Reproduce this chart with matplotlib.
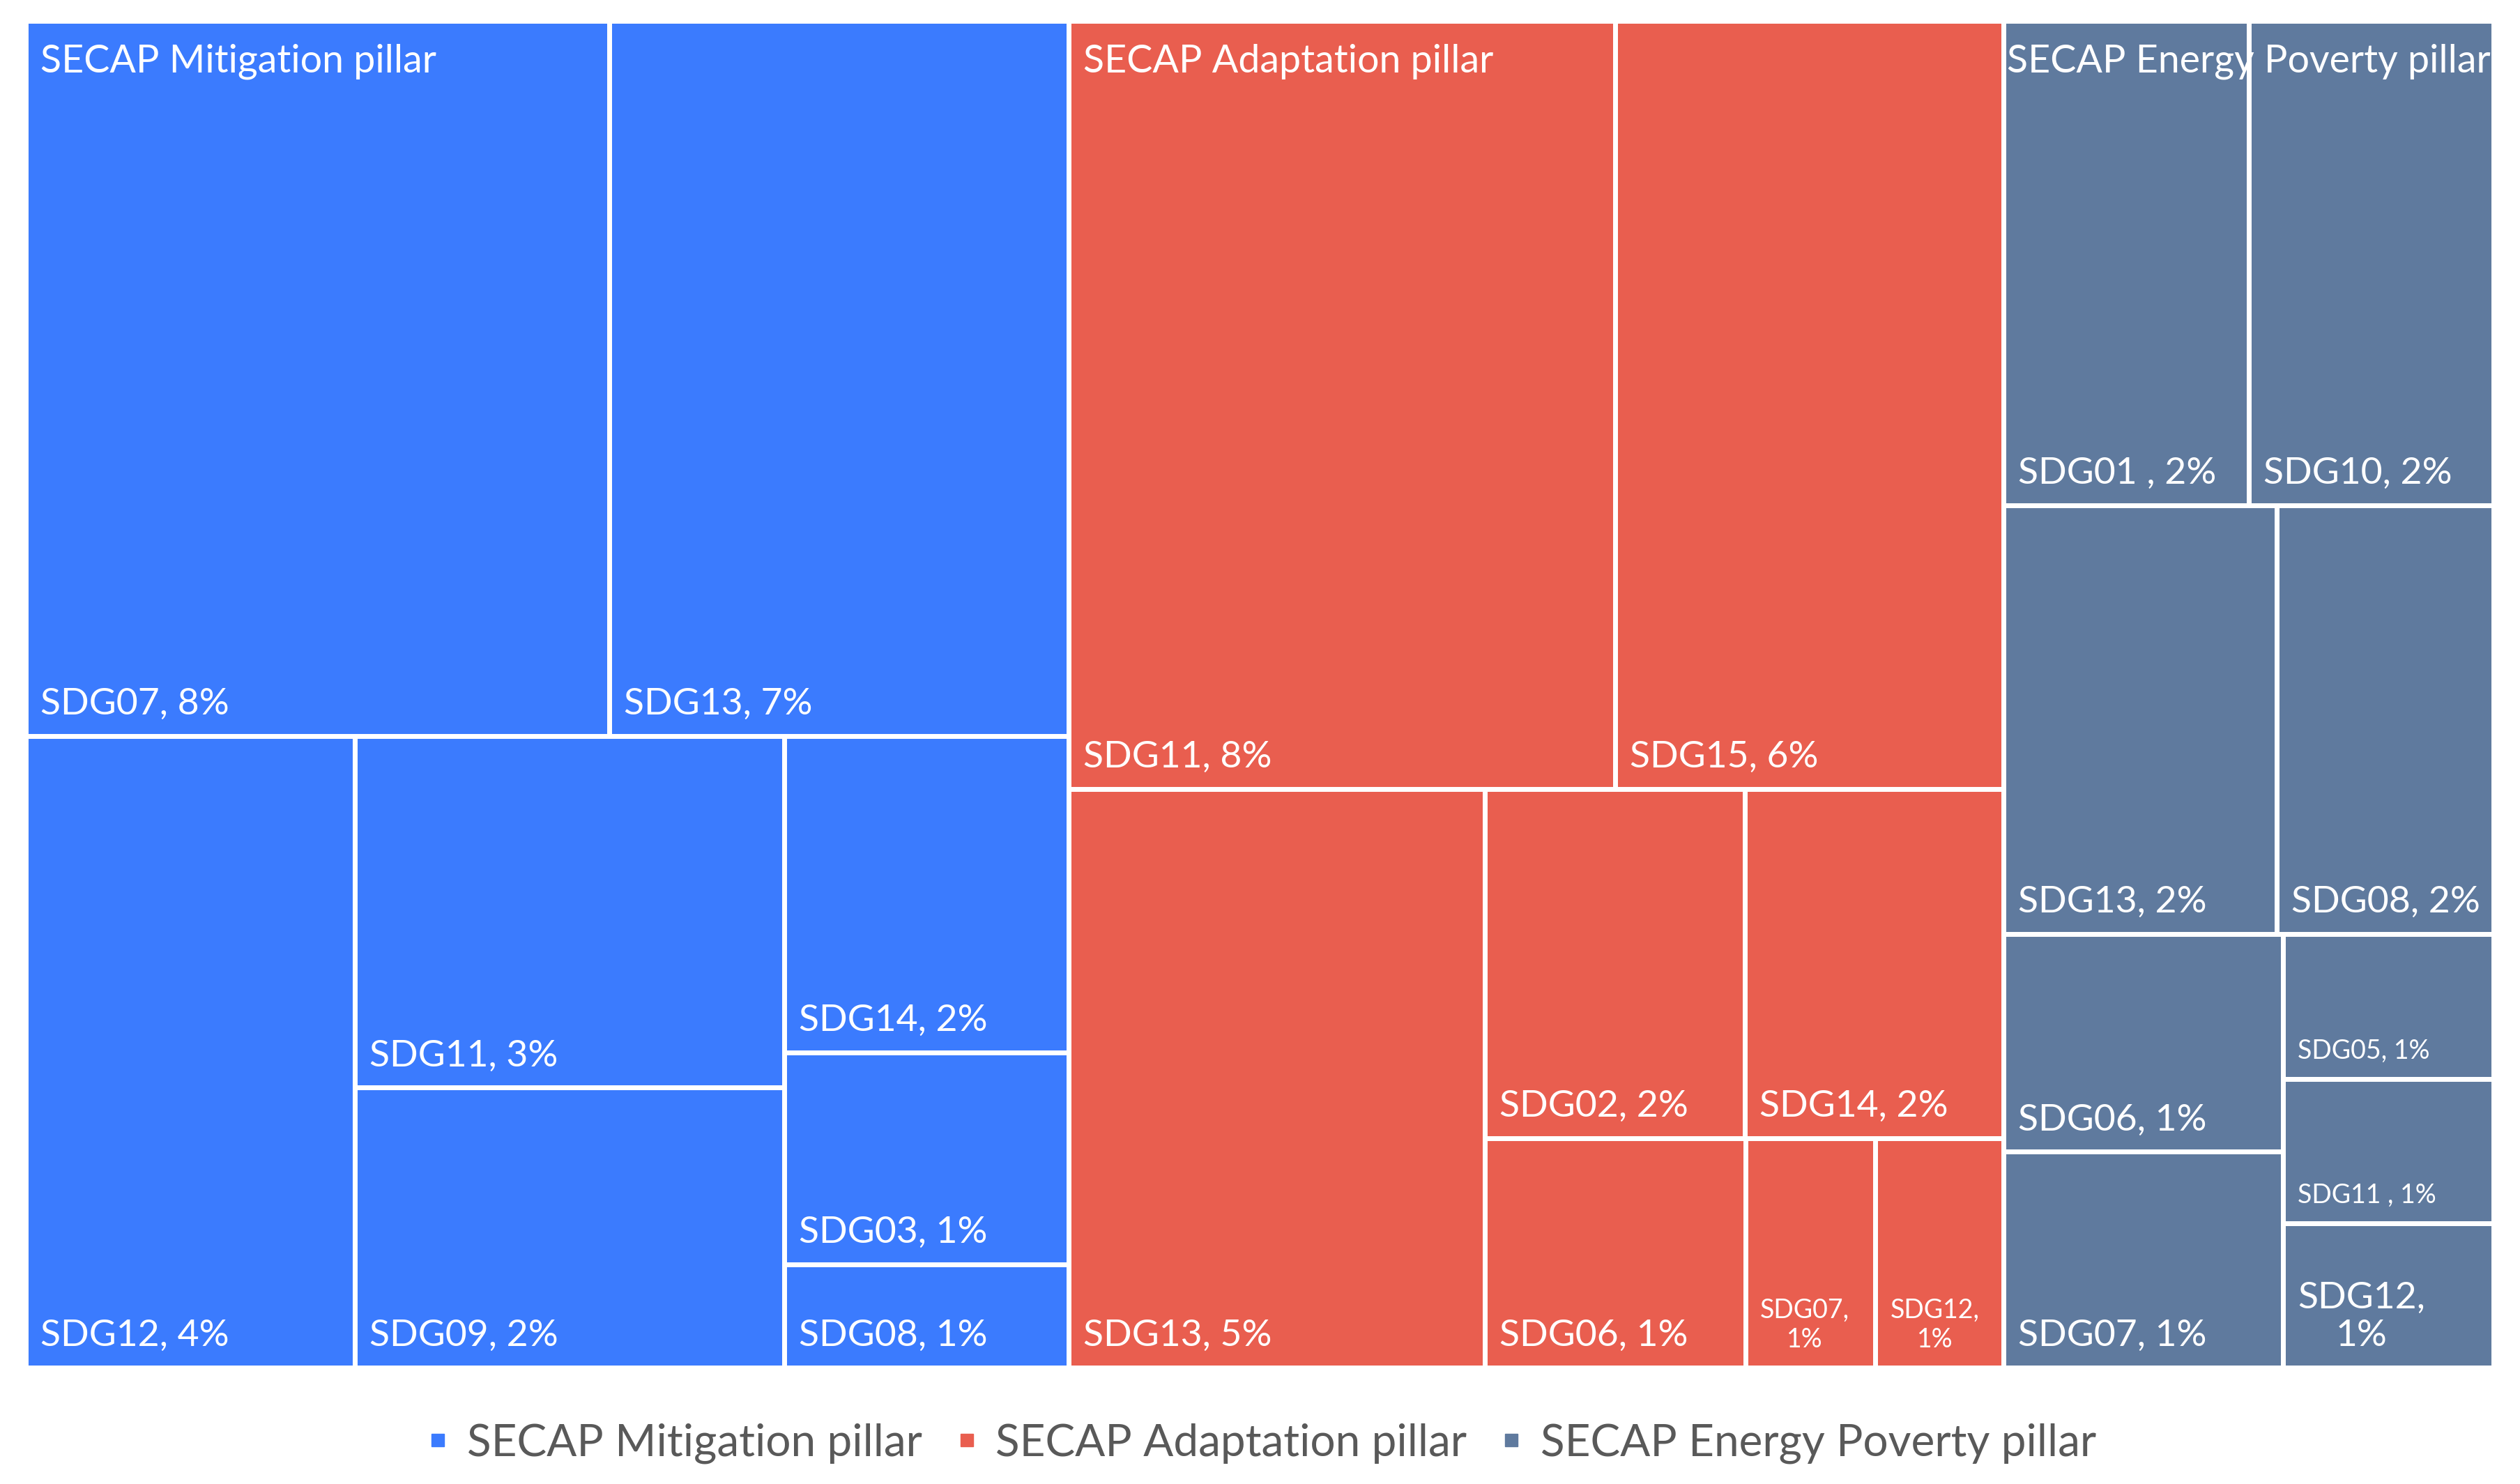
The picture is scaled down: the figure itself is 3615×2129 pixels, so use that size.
import matplotlib
matplotlib.use("Agg")
import matplotlib.pyplot as plt
from matplotlib.patches import Rectangle
from matplotlib.lines import Line2D

plt.rcParams['font.family'] = ['Lato', 'DejaVu Sans']

# data: share of SDG links per SECAP pillar (%)
pillars = ["SECAP Mitigation pillar", "SECAP Adaptation pillar", "SECAP Energy Poverty pillar"]

mitigation_sdg = ["SDG07", "SDG13", "SDG12", "SDG11", "SDG09", "SDG14", "SDG03", "SDG08"]
mitigation_pct = [8.37, 6.59, 4.17, 3.03, 2.41, 1.81, 1.21, 0.59]

adaptation_sdg = ["SDG11", "SDG15", "SDG13", "SDG02", "SDG14", "SDG06", "SDG07", "SDG12"]
adaptation_pct = [8.42, 5.99, 4.83, 1.82, 1.81, 1.20, 0.60, 0.59]

poverty_sdg = ["SDG01 ", "SDG10", "SDG13", "SDG08", "SDG06", "SDG07", "SDG05", "SDG11 ", "SDG12"]
poverty_pct = [2.38, 2.38, 2.35, 1.87, 1.22, 1.21, 0.61, 0.61, 0.61]

groups_sdg = [mitigation_sdg, adaptation_sdg, poverty_sdg]
groups_pct = [mitigation_pct, adaptation_pct, poverty_pct]

colors = ["#3B7BFE", "#E95E4F", "#5F7A9E"]

# label styling for the cramped cells
small_labels = {(1, "SDG07"), (1, "SDG12"), (2, "SDG05"), (2, "SDG11 ")}
wrapped_labels = {(1, "SDG07"), (1, "SDG12"), (2, "SDG12")}


def worst(row, side):
    s = sum(row)
    return max(max(side * side * r / (s * s), s * s / (side * side * r)) for r in row)


def squarify(areas, x, y, w, h):
    rects = []
    areas = list(areas)
    while areas:
        side = min(w, h)
        row = [areas.pop(0)]
        while areas and worst(row + [areas[0]], side) < worst(row, side):
            row.append(areas.pop(0))
        s = sum(row)
        if w >= h:
            cw = s / h
            yy = y
            for r in row:
                rects.append((x, yy, cw, r / cw))
                yy += r / cw
            x += cw
            w -= cw
        else:
            rh = s / w
            xx = x
            for r in row:
                rects.append((xx, y, r / rh, rh))
                xx += r / rh
            y += rh
            h -= rh
    return rects


W, H = 3616, 2129
fig = plt.figure(figsize=(W / 100, H / 100), dpi=100)
left, top, right, bottom = 37, 30, 3577, 1962
ax = fig.add_axes([left / W, 1 - bottom / H, (right - left) / W, (bottom - top) / H])
aw, ah = right - left, bottom - top
ax.set_xlim(0, aw)
ax.set_ylim(ah, 0)
ax.axis('off')

total = sum(sum(p) for p in groups_pct)
scale = aw * ah / total
group_rects = squarify([sum(p) * scale for p in groups_pct], 0, 0, aw, ah)

renderer = fig.canvas.get_renderer()
pad = 21
for gi, (gx, gy, gw, gh) in enumerate(group_rects):
    cells = squarify([v * scale for v in groups_pct[gi]], gx, gy, gw, gh)
    for sdg, pct, (cx, cy, cw, chh) in zip(groups_sdg[gi], groups_pct[gi], cells):
        ax.add_patch(Rectangle((cx, cy), cw, chh, facecolor=colors[gi], edgecolor='none', zorder=1))
        ax.add_patch(Rectangle((cx, cy), cw, chh, facecolor='none', edgecolor='white', lw=5, zorder=4))
        sep = ",\n" if (gi, sdg) in wrapped_labels else ", "
        fs = 27 if (gi, sdg) in small_labels else 38.5
        ax.text(cx + pad, cy + chh - 22, f"{sdg}{sep}{round(pct)}%", color='white', fontsize=fs,
                ha='left', va='bottom', multialignment='center', zorder=3)
    # pillar header in the top-left corner of the pillar
    t = ax.text(gx + pad, gy + 74, pillars[gi], color='white', fontsize=40,
                ha='left', va='baseline', zorder=3)
    tw = t.get_window_extent(renderer).width
    if tw + 2 * pad > gw:
        t.set_x(gx + (gw - tw) / 2)

handles = [Line2D([], [], marker='s', linestyle='none', markersize=13, color=c) for c in colors]
fig.legend(handles, pillars, loc='center', bbox_to_anchor=(0.5, 1 - 2071 / H), ncol=3,
           frameon=False, fontsize=46, labelcolor='#595959', handlelength=0.6,
           handletextpad=0.35, columnspacing=0.7)

fig.savefig("out.png", dpi=100)
